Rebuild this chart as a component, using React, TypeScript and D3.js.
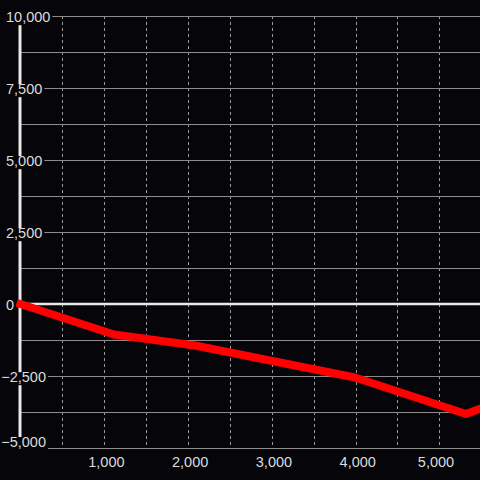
import React, { useEffect, useRef } from "react";
import * as d3 from "d3";

const xValues = [0, 1117, 2084, 3994, 5319, 5500];
const yValues = [0, -1059, -1441, -2552, -3819, -3620];
const yTickLabels = [10000, 7500, 5000, 2500, 0, -2500, -5000];
const yGridValues = [10000, 8750, 7500, 6250, 5000, 3750, 2500, 1250, 0, -1250, -2500, -3750, -5000];
const xTickLabels = [1000, 2000, 3000, 4000, 5000];
const xGridValues = [500, 1000, 1500, 2000, 2500, 3000, 3500, 4000, 4500, 5000];

const W = 480;
const H = 480;
const BG = "#060509";
const FONT = "'Liberation Sans', Arial, sans-serif";

export default function App() {
  const ref = useRef<SVGSVGElement | null>(null);

  useEffect(() => {
    const svg = d3.select(ref.current);
    svg.selectAll("*").remove();

    const x = d3.scaleLinear().domain([0, 5500]).range([20.4, 481.2]);
    const y = d3.scaleLinear().domain([-5000, 10000]).range([448, 16]);
    const fmt = d3.format(",");

    svg.append("rect").attr("width", W).attr("height", H).attr("fill", BG);

    // vertical dashed grid
    svg
      .append("g")
      .selectAll("line")
      .data(xGridValues)
      .join("line")
      .attr("x1", (d) => Math.round(x(d)) + 0.5)
      .attr("x2", (d) => Math.round(x(d)) + 0.5)
      .attr("y1", y(10000))
      .attr("y2", y(-5000))
      .attr("stroke", "#9a9a9a")
      .attr("stroke-width", 1)
      .attr("stroke-dasharray", "3,3");

    // horizontal grid
    svg
      .append("g")
      .selectAll("line")
      .data(yGridValues.filter((v) => v !== 0))
      .join("line")
      .attr("x1", 20)
      .attr("x2", W)
      .attr("y1", (d) => Math.round(y(d)) + 0.5)
      .attr("y2", (d) => Math.round(y(d)) + 0.5)
      .attr("stroke", "#8c8c8c")
      .attr("stroke-width", 1);

    // vertical axis
    svg
      .append("line")
      .attr("x1", 20)
      .attr("x2", 20)
      .attr("y1", y(10000))
      .attr("y2", y(-5000))
      .attr("stroke", "#e8e8e8")
      .attr("stroke-width", 3);

    // zero line
    svg
      .append("line")
      .attr("x1", 20)
      .attr("x2", W)
      .attr("y1", y(0))
      .attr("y2", y(0))
      .attr("stroke", "#e8e8e8")
      .attr("stroke-width", 2.5);

    // data line
    const pts: [number, number][] = xValues.map((v, i) => [v, yValues[i]]);
    const line = d3
      .line<[number, number]>()
      .x((d) => x(d[0]))
      .y((d) => y(d[1]));
    svg
      .append("path")
      .attr("d", line(pts) as string)
      .attr("fill", "none")
      .attr("stroke", "#ff0000")
      .attr("stroke-width", 8)
      .attr("stroke-linejoin", "round")
      .attr("stroke-linecap", "square");

    // y labels with background boxes
    const yl = svg.append("g");
    yTickLabels.forEach((v) => {
      const g = yl.append("g");
      const rect = g.append("rect").attr("fill", BG);
      const baseline = Math.min(y(v) + 6.2, 447);
      const t = g
        .append("text")
        .attr("x", 6)
        .attr("dx", v < 0 ? -4.8 : 0)
        .attr("y", baseline)
        .attr("fill", "#dcdcdc")
        .attr("font-family", FONT)
        .attr("font-size", 14.5)
        .attr("text-anchor", "start")
        .text(fmt(v));
      const bb = (t.node() as SVGTextElement).getBBox();
      const padTop = 3;
      const padBot = 0;
      rect
        .attr("x", bb.x - 2)
        .attr("y", bb.y + padTop)
        .attr("width", bb.width + 4)
        .attr("height", bb.height - padTop - padBot);
    });

    // x labels
    svg
      .append("g")
      .selectAll("text")
      .data(xTickLabels)
      .join("text")
      .attr("x", (d) => Math.min(x(d) + 2.2, 436))
      .attr("y", 466.5)
      .attr("fill", "#dcdcdc")
      .attr("font-family", FONT)
      .attr("font-size", 14.5)
      .attr("text-anchor", "middle")
      .text((d) => fmt(d));
  }, []);

  return (
    <svg
      ref={ref}
      width={W}
      height={H}
      style={{ position: "fixed", left: 0, top: 0, display: "block" }}
    />
  );
}
